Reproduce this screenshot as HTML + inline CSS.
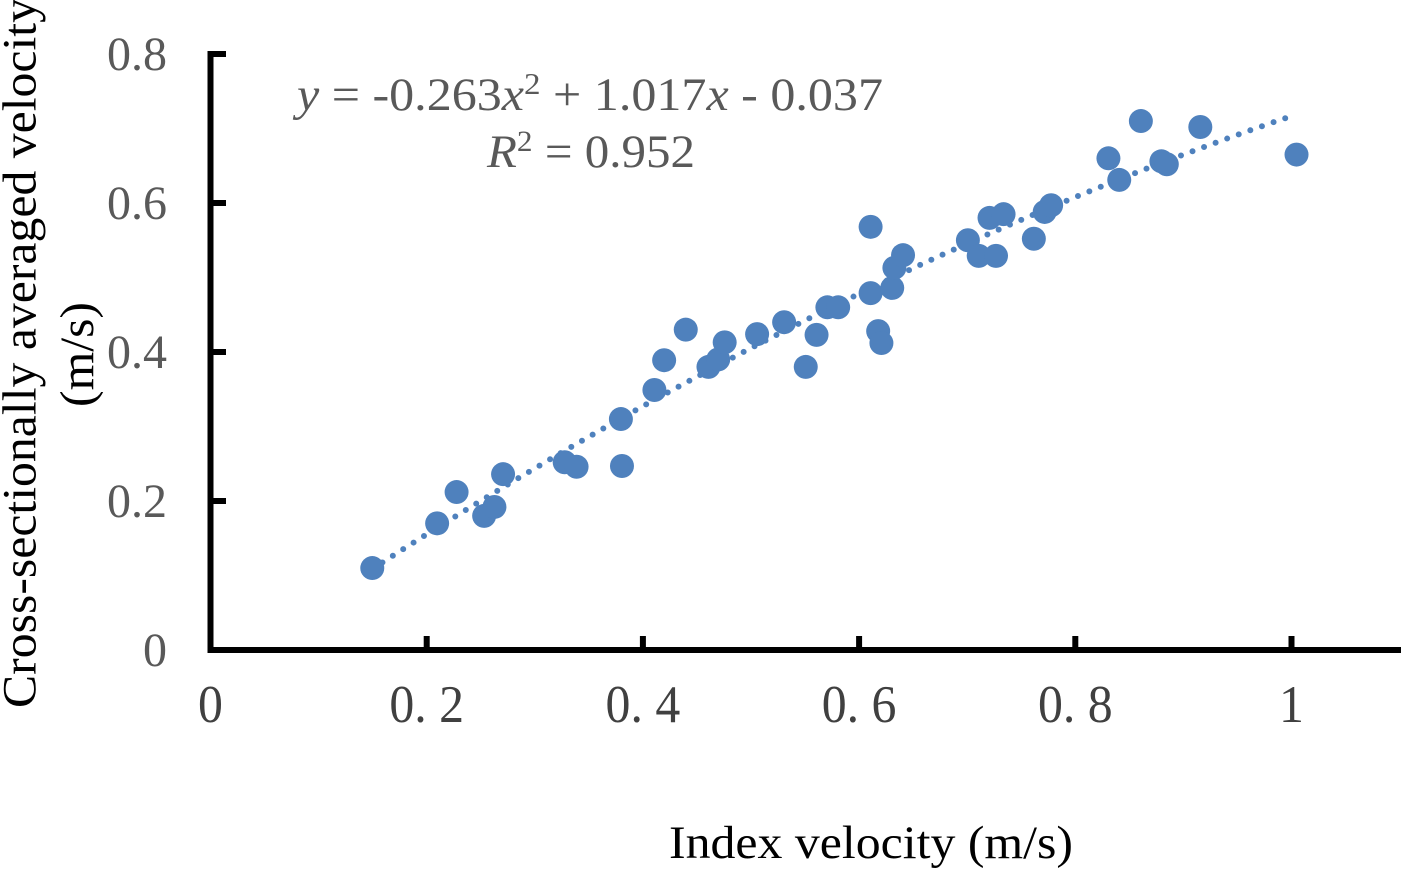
<!DOCTYPE html>
<html lang="en">
<head>
<meta charset="utf-8">
<title>Index velocity vs cross-sectionally averaged velocity</title>
<style>
html,body{margin:0;padding:0;background:#fff;width:1401px;height:869px;overflow:hidden}
svg{display:block}
text{font-family:"Liberation Serif","Noto Serif CJK SC",serif}
</style>
</head>
<body>
<svg id="chart" xmlns="http://www.w3.org/2000/svg" width="1401" height="869" viewBox="0 0 1401 869">
  <rect x="0" y="0" width="1401" height="869" fill="#fff"/>
  <g id="trend" transform="translate(0.7,0)"></g>
  <g id="points" transform="translate(0.7,0)"></g>
  <g id="axes"></g>
  <text x="297" y="110" font-size="47" fill="#595959" textLength="586" lengthAdjust="spacingAndGlyphs"><tspan font-style="italic">y</tspan> = -0.263<tspan font-style="italic">x</tspan><tspan font-size="31" dy="-16">2</tspan><tspan dy="16"> + 1.017</tspan><tspan font-style="italic">x</tspan> - 0.037</text>
  <text x="487" y="167" font-size="47" fill="#595959" textLength="208" lengthAdjust="spacingAndGlyphs"><tspan font-style="italic">R</tspan><tspan font-size="30" dy="-16">2</tspan><tspan dy="16"> = 0.952</tspan></text>
  <text x="669" y="858" font-size="47" fill="#000" textLength="404" lengthAdjust="spacingAndGlyphs">Index velocity (m/s)</text>
  <text transform="translate(35.5,708) rotate(-90)" x="0" y="0" font-size="48" fill="#000" textLength="710" lengthAdjust="spacingAndGlyphs">Cross-sectionally averaged velocity</text>
  <text transform="translate(93,407) rotate(-90)" x="0" y="0" font-size="48" fill="#000" textLength="105" lengthAdjust="spacingAndGlyphs">(m/s)</text>
</svg>
<script>
const xTicks = [0, 0.2, 0.4, 0.6, 0.8, 1];
const yTicks = [0, 0.2, 0.4, 0.6, 0.8];
const xTickLabels = ["0", "0. 2", "0. 4", "0. 6", "0. 8", "1"];
const yTickLabels = ["0", "0.2", "0.4", "0.6", "0.8"];
const indexVelocity = [0.149,0.209,0.227,0.2525,0.262,0.270,0.327,0.338,0.379,0.380,0.410,0.419,0.439,0.460,0.469,0.475,0.505,0.530,0.550,0.560,0.570,0.580,0.610,0.610,0.617,0.620,0.630,0.632,0.640,0.700,0.710,0.720,0.726,0.733,0.761,0.771,0.777,0.830,0.840,0.860,0.879,0.884,0.915,1.004];
const meanVelocity = [0.110,0.170,0.212,0.180,0.192,0.236,0.252,0.246,0.310,0.247,0.349,0.389,0.430,0.380,0.390,0.413,0.424,0.440,0.380,0.423,0.460,0.460,0.568,0.479,0.428,0.412,0.486,0.513,0.530,0.550,0.529,0.580,0.529,0.585,0.552,0.588,0.597,0.660,0.631,0.710,0.656,0.652,0.702,0.665];
const trendCoefficients = [-0.263, 1.017, -0.037];
const trendRange = [0.149, 0.9935];

const NS = "http://www.w3.org/2000/svg";
const xScale = v => 210.5 + v * 1081;
const yScale = v => 650 - v * 745;
const make = (tag, parent, props) => {
  const el = document.createElementNS(NS, tag);
  for (const k in props) el.setAttribute(k, props[k]);
  parent.appendChild(el);
  return el;
};

const axes = document.getElementById("axes");
const xAxisLine = make("line", axes, {x1: 207.5, y1: 650, x2: 1401, y2: 650, stroke: "#000", "stroke-width": 6});


const yAxisLine = make("line", axes, {x1: xScale(0), y1: 51, x2: xScale(0), y2: 653, stroke: "#000", "stroke-width": 6});



xTicks.forEach((t, i) => {
  if (i > 0) {
    const tick = make("line", axes, {x1: xScale(t), y1: 636, x2: xScale(t), y2: 650, stroke: "#000", "stroke-width": 6});
    
    
  }
  const label = make("text", axes, {transform: "translate(" + xScale(t) + ",722) scale(0.94,1)", "font-size": 53, fill: "#404040", "text-anchor": "middle"});
  
  
  label.style.whiteSpace = 'pre';
  label.textContent = xTickLabels[i];
});

yTicks.forEach((t, i) => {
  if (i > 0) {
    const tick = make("line", axes, {x1: xScale(0), y1: yScale(t), x2: 226, y2: yScale(t), stroke: "#000", "stroke-width": 6});
    
    
  }
  const label = make("text", axes, {x: 167, y: yScale(t) + 16, "font-size": 48, fill: "#595959", "text-anchor": "end"});
  
  
  label.textContent = yTickLabels[i];
});

const trendGroup = document.getElementById("trend");
const trendPoints = [];
for (let step = 60; step >= 0; step--) {
  const x = trendRange[0] + (trendRange[1] - trendRange[0]) * step / 60;
  const y = trendCoefficients[0] * x * x + trendCoefficients[1] * x + trendCoefficients[2];
  trendPoints.push(xScale(x).toFixed(1) + "," + yScale(y).toFixed(1));
}
const trendLine = make("polyline", trendGroup, {points: trendPoints.join(" "), fill: "none", stroke: "#4f81bd", "stroke-width": 6, "stroke-dasharray": "0 12.3", "stroke-linecap": "round"});



const pointsGroup = document.getElementById("points");
indexVelocity.forEach((x, i) => {
  const dot = make("circle", pointsGroup, {cx: xScale(x), cy: yScale(meanVelocity[i]), r: 12, fill: "#4f81bd"});
  
  
});
</script>
</body>
</html>
